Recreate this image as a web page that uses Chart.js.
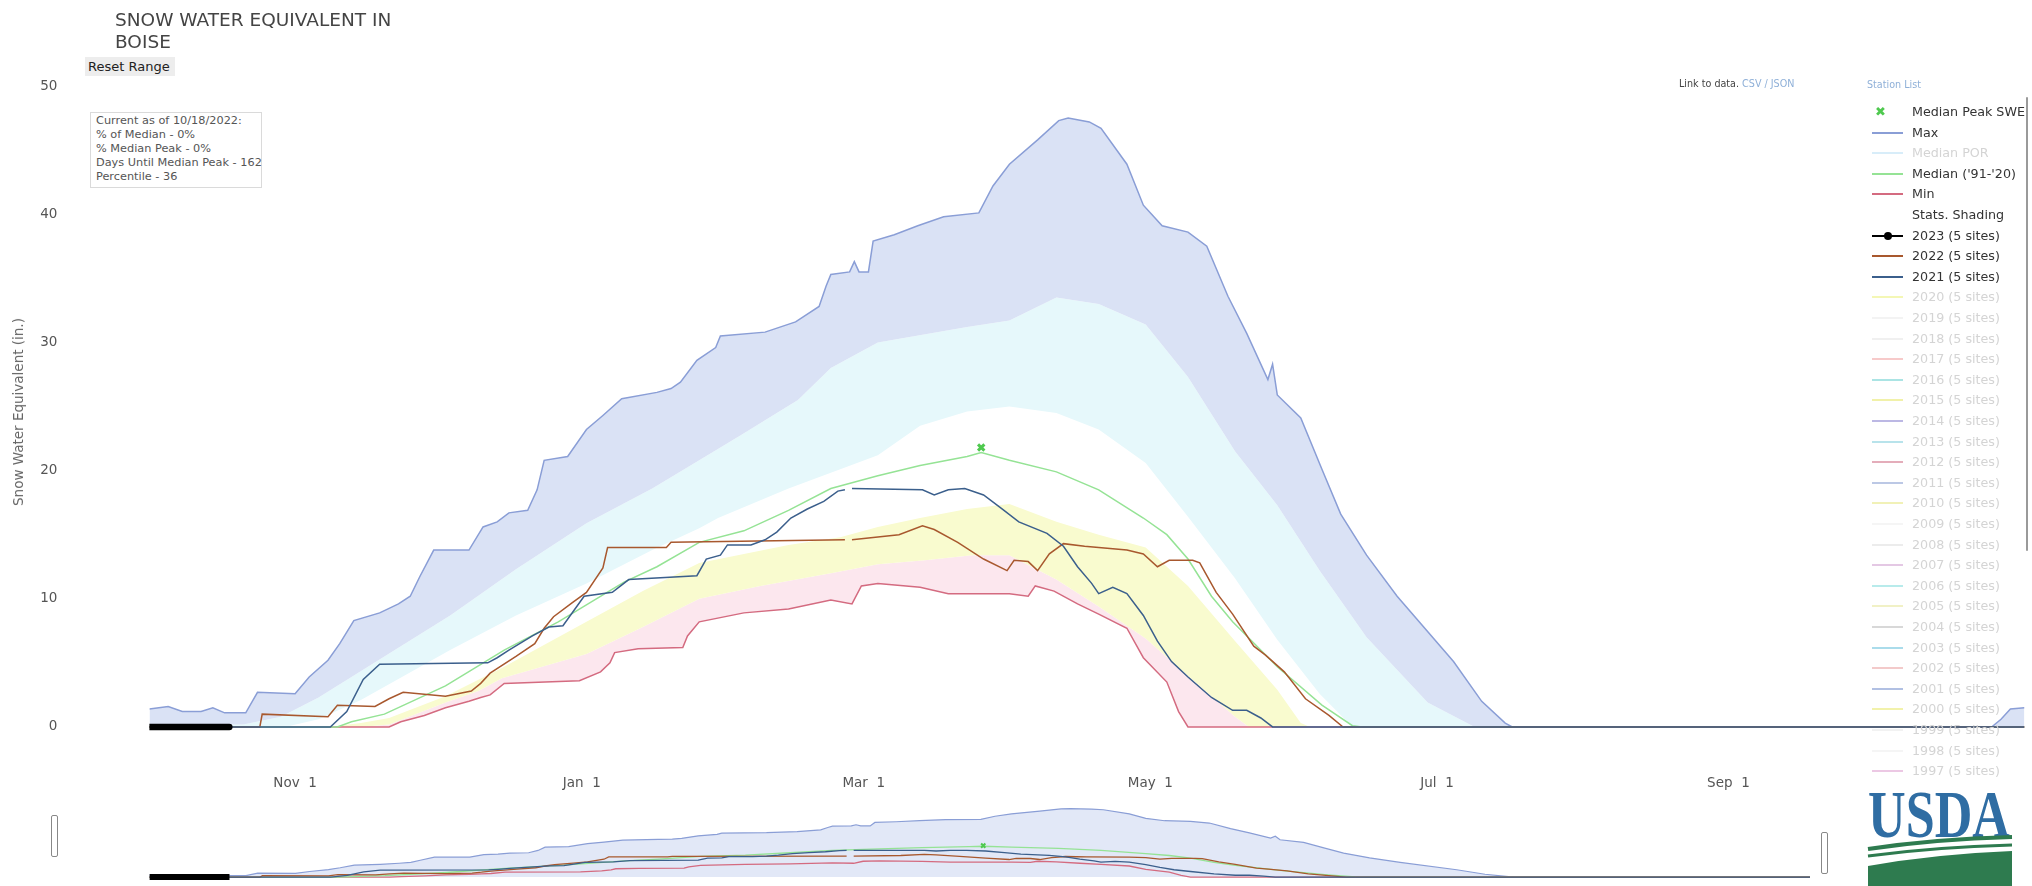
<!DOCTYPE html>
<html>
<head>
<meta charset="utf-8">
<title>Snow Water Equivalent in Boise</title>
<script src="https://cdn.jsdelivr.net/npm/chart.js@4.4.0/dist/chart.umd.min.js"></script>
<style>
  html, body { margin: 0; padding: 0; background: #fff; }
  body { width: 2032px; height: 886px; position: relative; overflow: hidden;
         font-family: "DejaVu Sans", Verdana, sans-serif; }
  canvas { position: absolute; left: 0; }
  #main { top: 0; }
  #nav { top: 795px; }
  .abs { position: absolute; white-space: nowrap; }
  #title { left: 115px; top: 9px; font-size: 18.5px; line-height: 21.7px; color: #444; }
  #reset { left: 85px; top: 57px; width: 87px; height: 19px; padding-left: 3px;
           background: #ededed; font-size: 13px; line-height: 19px; color: #222; }
  #info { left: 90px; top: 112px; width: 172px; height: 76px; box-sizing: border-box;
          padding: 1px 0 0 5px; border: 1px solid #dadada; background: #fff;
          font-size: 11.3px; line-height: 14px; color: #555; }
  #ytitle { left: 18px; top: 412px; font-size: 13.5px; color: #666;
            transform: translate(-50%, -50%) rotate(-90deg); }
  .small { font-size: 9.6px; line-height: 12px; color: #444; }
  .link { color: #8fb0d8; }
  .leg { position: absolute; left: 1912px; font-size: 12.7px; line-height: 16px; color: #333; white-space: nowrap; }
  .leg.off { color: #d4d4d4; }
  .sw { position: absolute; left: 1872px; width: 31px; height: 2px; }
  .handle { position: absolute; width: 5px; height: 40px; border: 1px solid #888;
            border-radius: 2px; background: #fff; }
</style>
</head>
<body>
<canvas id="main" width="2032" height="800"></canvas>
<canvas id="nav" width="2032" height="91"></canvas>

<div id="title" class="abs">SNOW WATER EQUIVALENT IN<br>BOISE</div>
<div id="reset" class="abs">Reset Range</div>
<div id="info" class="abs">Current as of 10/18/2022:<br>% of Median - 0%<br>% Median Peak - 0%<br>Days Until Median Peak - 162<br>Percentile - 36</div>
<div id="ytitle" class="abs">Snow Water Equivalent (in.)</div>
<div class="abs small" style="left:1679px;top:78px">Link to data. <span class="link">CSV / JSON</span></div>
<div class="abs small link" style="left:1867px;top:79px">Station List</div>
<div class="abs" style="left:2026px;top:97px;width:2px;height:454px;background:#9a9a9a;border-radius:1px"></div>
<div id="legend"></div>
<div class="handle" style="left:51px;top:815px"></div>
<div class="handle" style="left:1821px;top:832px"></div>

<svg class="abs" style="left:1860px;top:775px" width="172" height="111" viewBox="1860 775 172 111">
  <text x="1868" y="837" font-family="Liberation Serif" font-weight="bold" font-size="68" fill="#2f6da3"
        textLength="142" lengthAdjust="spacingAndGlyphs">USDA</text>
  <path d="M1868 849 Q1935 839 2012 837" stroke="#2e7b4f" stroke-width="4" fill="none"/>
  <path d="M1868 856 Q1935 847 2012 845" stroke="#2e7b4f" stroke-width="3" fill="none"/>
  <path d="M1868 866 Q1935 854 2012 851 L2012 886 L1868 886 Z" fill="#2e7b4f"/>
</svg>

<script>
// days counted from Oct 1, values in inches of SWE
const tickDays = [31, 92, 152, 213, 274, 336];
const tickLabels = ['Nov  1', 'Jan  1', 'Mar  1', 'May  1', 'Jul  1', 'Sep  1'];
const yTicks = [0, 10, 20, 30, 40, 50];

const maxSwe = [[0,1.4],[4,1.6],[7,1.2],[11,1.2],[13.5,1.5],[16,1.1],[20.5,1.1],[23,2.7],[31,2.6],
  [34,3.9],[38,5.2],[40.5,6.5],[43.5,8.3],[49,8.9],[53,9.6],[55.5,10.2],[57.5,11.7],[60.5,13.8],
  [68,13.8],[71,15.6],[74,16.0],[76.5,16.7],[80.5,16.9],[82.5,18.5],[84,20.8],[89,21.1],[93,23.2],
  [96.5,24.3],[100.5,25.6],[108,26.1],[111,26.4],[113,26.9],[116.5,28.6],[120.5,29.6],[121.5,30.5],
  [131,30.8],[137.5,31.6],[142.5,32.8],[144,34.4],[145,35.3],[149,35.5],[150,36.3],[151,35.5],
  [153,35.5],[154,37.9],[158.5,38.4],[163.5,39.1],[169,39.8],[176.5,40.1],[179.5,42.2],[183,43.9],
  [189,45.8],[193.5,47.3],[195.5,47.5],[200,47.2],[202.5,46.7],[208,43.9],[211.5,40.7],[215.5,39.1],
  [221,38.6],[225,37.5],[229.5,33.6],[233.5,30.7],[238,27.1],[239,28.3],[240,25.9],[245,24.1],
  [249.5,20.1],[253.5,16.6],[259,13.4],[265.5,10.2],[277.5,5.1],[283.5,2.0],[288.5,0.3],[290,0],
  [392,0],[394,0.6],[396,1.4],[399,1.5]];
const p90 = [[0,0.1],[20,0.2],[28,0.8],[36,2.3],[50,5.5],[64,8.7],[78,12.3],[93,15.9],[107,18.6],
  [117,20.8],[126,22.8],[138,25.5],[145,28.0],[155,30.0],[174,31.2],[183,31.7],[193,33.5],[202,33.0],
  [212,31.4],[221,27.3],[231,21.5],[240,17.3],[249,12.2],[259,7.0],[272,1.9],[282,0],[399,0]];
const p70 = [[0,0],[30,0.1],[36,0.6],[45,2.1],[64,6.0],[78,8.7],[93,11.2],[107,13.8],[117,15.5],
  [121,16.3],[136,18.6],[155,21.2],[164,23.5],[174,24.6],[183,25.0],[193,24.5],[202,23.2],[212,20.6],
  [221,16.4],[231,11.6],[240,6.8],[249,2.6],[256,0],[399,0]];
const p30 = [[0,0],[38,0],[45,0.3],[51,0.7],[63,2.4],[75,4.6],[93,8.2],[105,10.6],[117,12.8],
  [136,14.2],[147,14.8],[155,15.6],[164,16.3],[174,17.0],[183,17.4],[193,16.0],[202,15.0],[212,14.0],
  [221,11.0],[231,6.7],[240,2.9],[245,0.3],[247,0],[399,0]];
const p10 = [[0,0],[45,0],[51,0.2],[63,1.9],[70,2.8],[75,3.8],[93,5.7],[105,7.8],[117,10.0],
  [130,11.0],[145,12.0],[155,12.7],[165,13.0],[175,13.4],[183,13.4],[193,11.5],[202,9.4],[212,6.9],
  [221,4.0],[231,0.8],[234,0],[399,0]];
const minSwe = [[0,0],[51,0],[53.5,0.4],[58.5,0.9],[63,1.5],[68,2.0],[70.5,2.3],[72.5,2.5],[75.5,3.4],
  [91.5,3.6],[96,4.3],[98,5.0],[99,5.8],[104,6.1],[113.5,6.2],[114.5,7.1],[117,8.2],[126.5,8.9],
  [136,9.2],[145,9.9],[149.5,9.6],[151.5,11.0],[155,11.2],[164,10.9],[170,10.4],[183,10.4],[187,10.2],
  [188.5,11.0],[192.5,10.6],[197.5,9.6],[202,8.8],[208,7.7],[211.5,5.4],[216.5,3.5],[219,1.2],
  [221,0],[399,0]];
const medianSwe = [[0,0],[40,0],[43,0.4],[50,1.0],[63,3.2],[75.5,6.0],[87,8.2],[101,11.3],[108,12.5],
  [117,14.4],[126.5,15.3],[136,16.9],[145,18.6],[155,19.6],[164,20.4],[174,21.1],[177,21.4],
  [183,20.8],[193,19.9],[202,18.5],[211.5,16.3],[216.5,15.0],[221,13.1],[226,10.2],[230.5,8.2],
  [240,4.7],[249.5,1.7],[256,0.1],[258,0],[399,0]];
const medianPeak = [[177,21.8]];
const wy2021 = [[0,0],[38.5,0],[42,1.2],[45.5,3.7],[49,4.9],[72,5.0],[74,5.4],[76.5,6.0],[81.5,7.1],
  [85,7.8],[88,7.9],[92.5,10.2],[98.5,10.5],[102,11.5],[116.5,11.8],[118.5,13.1],[121.5,13.4],
  [123,14.2],[128,14.2],[131,14.6],[133.5,15.2],[136.5,16.3],[140,17.0],[143.5,17.6],[146.5,18.4],
  [148,18.5],[148.7,null],[149.5,18.6],[164.5,18.5],[167,18.1],[170,18.5],[173.5,18.6],[177.5,18.1],
  [181.5,17.0],[185,16.0],[191,15.1],[194.5,14.1],[197.5,12.5],[200.5,11.2],[202,10.4],[205,10.9],
  [208,10.4],[211.5,8.7],[214.5,6.7],[217.5,5.1],[221,3.9],[226,2.3],[230.5,1.3],[233.5,1.3],
  [236.5,0.7],[239,0],[399,0]];
const wy2022 = [[0,0],[23.5,0],[24,1.0],[38,0.8],[40,1.7],[48,1.6],[51,2.2],[54,2.7],[63,2.4],
  [68.5,2.8],[70.5,3.4],[72.5,4.2],[78,5.5],[82,6.5],[84,7.7],[86,8.6],[90,9.7],[93,10.5],[96.5,12.4],
  [97.5,14.0],[110,14.0],[111,14.4],[148,14.6],[148.7,null],[149.5,14.6],[159.5,15.0],[164.5,15.7],
  [167,15.4],[172,14.4],[177.5,13.1],[182.5,12.2],[184,13.0],[187,12.9],[189,12.2],[191.5,13.5],
  [194.5,14.3],[199,14.1],[208,13.8],[211.5,13.5],[214.5,12.5],[217,13.0],[222,13.0],[223.5,12.8],
  [227,10.5],[230.5,8.8],[235,6.3],[237.5,5.6],[241.5,4.3],[246,2.2],[251,0.9],[254,0],[399,0]];
const wy2023 = [[0,0],[1,0],[2,0],[3,0],[4,0],[5,0],[6,0],[7,0],[8,0],[9,0],[10,0],[11,0],[12,0],
  [13,0],[14,0],[15,0],[16,0],[17,0]];

const hiddenYears = [2020, 2019, 2018, 2017, 2016, 2015, 2014, 2013, 2012, 2011, 2010, 2009,
  2008, 2007, 2006, 2005, 2004, 2003, 2002, 2001, 2000, 1999, 1998, 1997];

const colors = {
  max: '#8a9ed6', median: '#95e395', min: '#d46b80', y2021: '#3b5f8c', y2022: '#a8582e',
  y2023: '#000000', peak: '#4fc94f',
  blue: '#dae2f5', cyan: '#e6f8fb', yellow: '#f9fbcf', pink: '#fce7ee'
};
const hiddenColors = ['#e6ee5a', '#e4e4e4', '#dddddd', '#ee8a8a', '#45c4c4', '#e0e040', '#6a62c4',
  '#62c2d2', '#c44a66', '#6a86c6', '#e0e060', '#e8e8e8', '#d4d4d4', '#c486c4', '#62d2d2', '#e0e080',
  '#a8a8a8', '#42b2d2', '#e48a8a', '#5274c2', '#e2e244', '#e2e2e2', '#e8e8e8', '#d486c4'];

function line(data, color, width, extra) {
  return Object.assign({ data: data, borderColor: color, borderWidth: width, pointRadius: 0,
    fill: false, spanGaps: false }, extra || {});
}

// tick labels placed from the scales of the plot
const axisLabels = {
  id: 'axisLabels',
  afterDraw(chart) {
    const { ctx } = chart;
    const x = chart.scales.x, y = chart.scales.y;
    ctx.save();
    ctx.font = '13.5px "DejaVu Sans"';
    ctx.fillStyle = '#555';
    ctx.textAlign = 'right';
    ctx.textBaseline = 'middle';
    yTicks.forEach(v => ctx.fillText(String(v), x.left - 92, y.getPixelForValue(v)));
    ctx.textAlign = 'center';
    tickDays.forEach((d, i) => ctx.fillText(tickLabels[i], x.getPixelForValue(d), y.bottom + 31));
    ctx.restore();
  }
};

new Chart(document.getElementById('main'), {
  type: 'line',
  data: {
    datasets: [
      line(medianPeak, colors.peak, 3, { showLine: false, pointRadius: 4.5, pointStyle: 'crossRot',
        pointBorderColor: colors.peak, pointBorderWidth: 3 }),
      line(wy2023, colors.y2023, 6.5, { borderCapStyle: 'round' }),
      line(wy2021, colors.y2021, 1.5),
      line(wy2022, colors.y2022, 1.5),
      line(medianSwe, colors.median, 1.5),
      line(minSwe, colors.min, 1.5),
      // stats shading: max..90%, 90%..70%, 30%..10%, 10%..min
      line(maxSwe, colors.max, 1.5, { fill: '+1', backgroundColor: colors.blue }),
      line(p90, 'rgba(0,0,0,0)', 0, { fill: '+1', backgroundColor: colors.cyan }),
      line(p70, 'rgba(0,0,0,0)', 0),
      line(p30, 'rgba(0,0,0,0)', 0, { fill: '+1', backgroundColor: colors.yellow }),
      line(p10, 'rgba(0,0,0,0)', 0, { fill: '+1', backgroundColor: colors.pink }),
      line(minSwe, 'rgba(0,0,0,0)', 0)
    ]
  },
  options: {
    responsive: false,
    animation: false,
    layout: { padding: { top: 86, right: 3, left: 149.4, bottom: 47.4 } },
    elements: { line: { tension: 0 } },
    plugins: {
      legend: { display: false },
      tooltip: { enabled: false },
      filler: { drawTime: 'beforeDatasetsDraw' }
    },
    scales: {
      x: { type: 'linear', min: 0, max: 399, display: false },
      y: { min: -2, max: 50, display: false }
    }
  },
  plugins: [axisLabels]
});

// range selector below the main plot
new Chart(document.getElementById('nav'), {
  type: 'line',
  data: {
    datasets: [
      line(medianPeak, colors.peak, 2, { showLine: false, pointRadius: 3, pointStyle: 'crossRot',
        pointBorderColor: colors.peak, pointBorderWidth: 2 }),
      line(wy2023, colors.y2023, 6),
      line(wy2021, colors.y2021, 1.3),
      line(wy2022, colors.y2022, 1.3),
      line(medianSwe, colors.median, 1.3),
      line(minSwe, colors.min, 1.3),
      line(maxSwe, colors.max, 1.2, { fill: 'origin', backgroundColor: '#e2e8f7' })
    ]
  },
  options: {
    responsive: false,
    animation: false,
    layout: { padding: { top: 10, right: 222, left: 149.4, bottom: 3 } },
    elements: { line: { tension: 0 } },
    plugins: {
      legend: { display: false },
      tooltip: { enabled: false },
      filler: { drawTime: 'beforeDatasetsDraw' }
    },
    scales: {
      x: { type: 'linear', min: 0, max: 352.5, display: false },
      y: { min: -2, max: 50, display: false }
    }
  }
});

// legend column on the right
const legendItems = [
  { label: 'Median Peak SWE', kind: 'marker', color: colors.peak, on: true },
  { label: 'Max', kind: 'line', color: colors.max, on: true },
  { label: 'Median POR', kind: 'line', color: '#a9d8f2', on: false },
  { label: "Median ('91-'20)", kind: 'line', color: colors.median, on: true },
  { label: 'Min', kind: 'line', color: colors.min, on: true },
  { label: 'Stats. Shading', kind: 'none', on: true },
  { label: '2023 (5 sites)', kind: 'dot', color: colors.y2023, on: true },
  { label: '2022 (5 sites)', kind: 'line', color: colors.y2022, on: true },
  { label: '2021 (5 sites)', kind: 'line', color: colors.y2021, on: true }
];
hiddenYears.forEach((yr, i) => {
  legendItems.push({ label: yr + ' (5 sites)', kind: 'line', color: hiddenColors[i], on: false });
});

const legend = document.getElementById('legend');
legendItems.forEach((item, i) => {
  const cy = 112 + i * 20.6;
  const text = document.createElement('div');
  text.className = 'leg' + (item.on ? '' : ' off');
  text.style.top = (cy - 8) + 'px';
  text.textContent = item.label;
  legend.appendChild(text);
  if (item.kind === 'line' || item.kind === 'dot') {
    const sw = document.createElement('div');
    sw.className = 'sw';
    sw.style.top = (cy - 1) + 'px';
    sw.style.background = item.color;
    if (!item.on) sw.style.opacity = 0.45;
    legend.appendChild(sw);
  }
  if (item.kind === 'dot') {
    const dot = document.createElement('div');
    dot.className = 'abs';
    Object.assign(dot.style, { left: '1884px', top: (cy - 4) + 'px', width: '8px', height: '8px',
      borderRadius: '50%', background: item.color });
    legend.appendChild(dot);
  }
  if (item.kind === 'marker') {
    const mk = document.createElement('div');
    mk.className = 'abs';
    Object.assign(mk.style, { left: '1875px', top: (cy - 9) + 'px', fontSize: '13px',
      fontWeight: 'bold', color: item.color, lineHeight: '18px' });
    mk.textContent = '\u2716';
    legend.appendChild(mk);
  }
});
</script>
</body>
</html>
